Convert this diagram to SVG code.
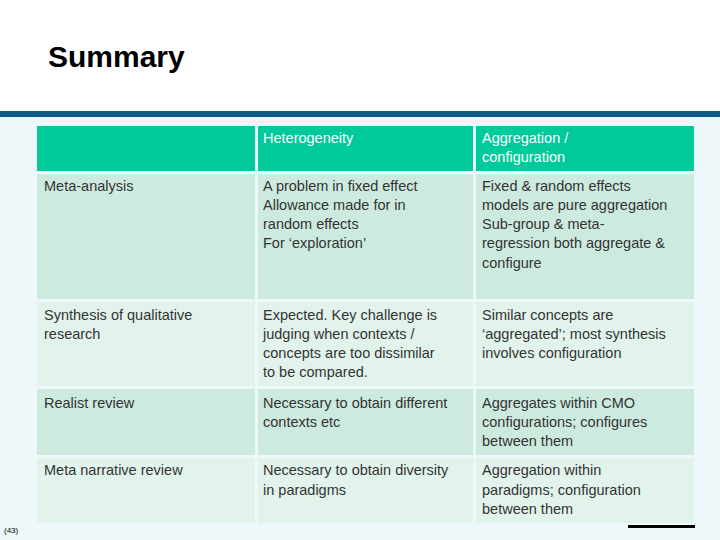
<svg xmlns="http://www.w3.org/2000/svg" width="720" height="540" viewBox="0 0 720 540">
<style>
text{font-family:"Liberation Sans",Arial,sans-serif;font-size:14.5px;fill:#333}
.h text{fill:#fff}
.a{fill:#cdeadf}.b{fill:#e2f3ec}
</style>
<rect width="720" height="540" fill="#eef8fb"/>
<rect width="720" height="111" fill="#fff"/>
<rect y="111" width="720" height="6" fill="#0f5a86"/>
<text x="48" y="67" style="font-size:30px;font-weight:bold;fill:#000">Summary</text>
<g id="header" class="h">
<rect x="37" y="126" width="218" height="45" fill="#00c99a"/>
<rect x="258" y="126" width="215" height="45" fill="#00c99a"/>
<rect x="476" y="126" width="218" height="45" fill="#00c99a"/>
<text x="263" y="143">Heterogeneity</text>
<text x="482" y="143">Aggregation /</text><text x="482" y="162">configuration</text>
</g>
<g id="row1">
<rect class="a" x="37" y="174" width="218" height="125"/><rect class="a" x="258" y="174" width="215" height="125"/><rect class="a" x="476" y="174" width="218" height="125"/>
<text x="44" y="191">Meta-analysis</text>
<text x="263" y="191">A problem in fixed effect</text><text x="263" y="210">Allowance made for in</text><text x="263" y="229">random effects</text><text x="263" y="248">For ‘exploration’</text>
<text x="482" y="191">Fixed &amp; random effects</text><text x="482" y="210">models are pure aggregation</text><text x="482" y="229">Sub-group &amp; meta-</text><text x="482" y="248">regression both aggregate &amp;</text><text x="482" y="268">configure</text>
</g>
<g id="row2">
<rect class="b" x="37" y="302" width="218" height="84"/><rect class="b" x="258" y="302" width="215" height="84"/><rect class="b" x="476" y="302" width="218" height="84"/>
<text x="44" y="320">Synthesis of qualitative</text><text x="44" y="339">research</text>
<text x="263" y="320">Expected. Key challenge is</text><text x="263" y="339">judging when contexts /</text><text x="263" y="358">concepts are too dissimilar</text><text x="263" y="377">to be compared.</text>
<text x="482" y="320">Similar concepts are</text><text x="482" y="339">‘aggregated’; most synthesis</text><text x="482" y="358">involves configuration</text>
</g>
<g id="row3">
<rect class="a" x="37" y="389" width="218" height="66"/><rect class="a" x="258" y="389" width="215" height="66"/><rect class="a" x="476" y="389" width="218" height="66"/>
<text x="44" y="408">Realist review</text>
<text x="263" y="408">Necessary to obtain different</text><text x="263" y="427">contexts etc</text>
<text x="482" y="408">Aggregates within CMO</text><text x="482" y="427">configurations; configures</text><text x="482" y="446">between them</text>
</g>
<g id="row4">
<rect class="b" x="37" y="458" width="218" height="65"/><rect class="b" x="258" y="458" width="215" height="65"/><rect class="b" x="476" y="458" width="218" height="65"/>
<text x="44" y="475">Meta narrative review</text>
<text x="263" y="475">Necessary to obtain diversity</text><text x="263" y="495">in paradigms</text>
<text x="482" y="475">Aggregation within</text><text x="482" y="495">paradigms; configuration</text><text x="482" y="514">between them</text>
</g>
<text x="4" y="533" style="font-size:8px;fill:#000">(43)</text>
<rect x="628" y="525" width="67" height="3" fill="#000"/>
</svg>
